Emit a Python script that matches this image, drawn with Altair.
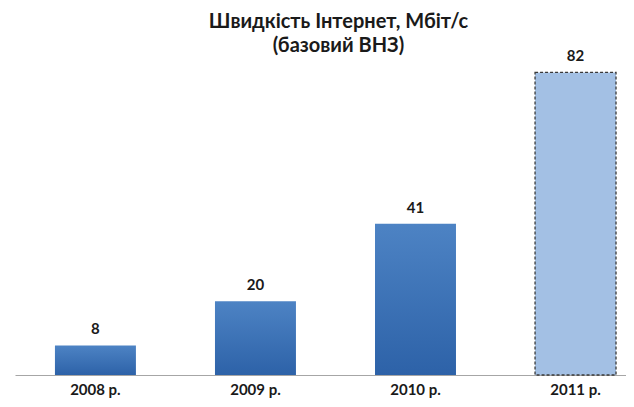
import altair as alt
import pandas as pd

years = ["2008 р.", "2009 р.", "2010 р.", "2011 р."]
speeds = [8, 20, 41, 82]
planned = [False, False, False, True]

df = pd.DataFrame({"year": years, "speed": speeds, "planned": planned})

FONT = "Lato"

x = alt.X("year:N", sort=years, title=None,
          scale=alt.Scale(paddingInner=0.494, paddingOuter=0.156, align=0.8),
          axis=alt.Axis(labelAngle=0, ticks=False, domainColor="#a6a6a6", domainWidth=1.2,
                        labelFont=FONT, labelFontSize=15, labelFontWeight="bold",
                        labelColor="#1a1a1a", labelPadding=7))
y = alt.Y("speed:Q", title=None, scale=alt.Scale(domain=[0, 83.2], nice=False),
          axis=None)

grad = alt.Gradient(gradient="linear", x1=0, x2=0, y1=0, y2=1,
                    stops=[alt.GradientStop(color="#4d83c4", offset=0),
                           alt.GradientStop(color="#2d62a8", offset=1)])

base = alt.Chart(df).encode(x=x, y=y)

bars = base.transform_filter("!datum.planned").mark_bar(color=grad)
bars_plan = base.transform_filter("datum.planned").mark_bar(
    color="#a3c0e4", stroke="#3a3a3a", strokeWidth=1.3, strokeDash=[3, 2])
labels = base.mark_text(baseline="bottom", dy=-8, font=FONT, fontSize=15,
                        fontWeight="bold", color="#1a1a1a").encode(text="speed:Q")

chart = (bars + bars_plan + labels).properties(
    width=611, height=307,
    autosize=alt.AutoSizeParams(type="none"),
    padding={"left": 7, "top": 60, "right": 0, "bottom": 24},
    title=alt.TitleParams(["Швидкість Інтернет, Мбіт/с", "(базовий ВНЗ)"],
                          font=FONT, fontSize=20, fontWeight="bold", color="#1a1a1a",
                          anchor="middle", dx=18, offset=-7, lineHeight=24),
).configure_view(stroke=None)

chart.save("out.html", embed_options={"renderer": "svg", "actions": False})
